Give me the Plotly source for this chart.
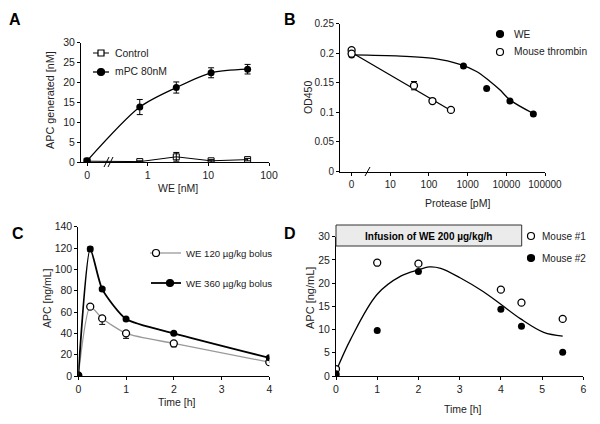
import plotly.graph_objects as go

# ---- panel A: APC generation vs WE concentration ----
a_conc = [0, 0.74, 2.96, 11.1, 44.4]
a_mpc = [0.3, 13.8, 18.7, 22.4, 23.3]
a_mpc_err = [0.3, 1.9, 1.4, 1.25, 1.2]
a_ctrl = [0.2, 0.1, 1.3, 0.3, 0.6]
a_ctrl_err = [0.1, 0.2, 1.1, 0.3, 0.3]

# ---- panel B: OD450 vs protease ----
b_we_pm = [0, 780, 3100, 12400, 50000]
b_we_od = [0.197, 0.178, 0.140, 0.119, 0.097]
b_thr_pm = [0, 0, 41, 123, 370]
b_thr_od = [0.205, 0.199, 0.145, 0.119, 0.104]
b_thr_err = [0.003, 0.003, 0.007, 0.003, 0.003]
b_we_fit_pm = [0, 18, 130, 630, 1700, 3800, 6800, 12400, 50000]
b_we_fit_od = [0.197, 0.195, 0.191, 0.181, 0.169, 0.152, 0.138, 0.121, 0.098]
b_thr_fit_pm = [0, 370]
b_thr_fit_od = [0.201, 0.103]

# ---- panel C: bolus ----
c_time = [0, 0.25, 0.5, 1, 2, 4]
c_120 = [0.5, 65, 54, 40, 30.5, 13]
c_120_err = [0, 0, 5.6, 4.7, 3.1, 0]
c_360 = [0.5, 119, 81.5, 53.5, 40, 17]
c_360_err = [0, 2, 1.5, 1, 1, 1]

# ---- panel D: infusion ----
d_t1 = [0, 1, 2, 4, 4.5, 5.5]
d_m1 = [1.5, 24.4, 24.2, 18.6, 15.8, 12.3]
d_t2 = [0, 0, 1, 2, 4, 4.5, 5.5]
d_m2 = [0.5, 0.2, 9.8, 22.5, 14.4, 10.7, 5.1]
d_fit_t = [0, 0.36, 1.0, 1.57, 2.02, 2.26, 2.54, 3.02, 3.55, 3.99, 4.48, 5.04, 5.5]
d_fit = [1.0, 8.0, 17.6, 21.5, 22.9, 23.5, 23.2, 21.1, 18.3, 15.5, 12.3, 9.4, 8.6]

W, H = 600, 424
FONT = "Arial, Liberation Sans, sans-serif"


def px(x):
    return x / W


def py(y):
    return 1 - y / H


# zero doses sit where the axis break puts them
a_x = [0.1 if c == 0 else c for c in a_conc]
b_we_x = [1 if c == 0 else c for c in b_we_pm]
b_thr_x = [1 if c == 0 else c for c in b_thr_pm]
b_we_fit_x = [1 if c == 0 else c for c in b_we_fit_pm]
b_thr_fit_x = [1 if c == 0 else c for c in b_thr_fit_pm]

fig = go.Figure()

err = dict(type="data", color="black", thickness=1, width=3)
open_dot = dict(symbol="circle", size=7, color="white", line=dict(color="black", width=1.3))
full_dot = dict(symbol="circle", size=7, color="black")

# A
fig.add_trace(go.Scatter(x=a_x, y=a_ctrl, name="Control", mode="lines+markers",
                         line=dict(color="black", width=1),
                         marker=dict(symbol="square-open", size=6, color="black", line=dict(width=1)),
                         error_y=dict(array=a_ctrl_err, **err), xaxis="x", yaxis="y"))
fig.add_trace(go.Scatter(x=a_x, y=a_mpc, name="mPC 80nM", mode="lines+markers",
                         line=dict(color="black", width=1.3, shape="spline", smoothing=0.8),
                         marker=full_dot, error_y=dict(array=a_mpc_err, **err), xaxis="x", yaxis="y"))

# B
fig.add_trace(go.Scatter(x=b_we_fit_x, y=b_we_fit_od, mode="lines",
                         line=dict(color="black", width=1.3, shape="spline"), xaxis="x2", yaxis="y2"))
fig.add_trace(go.Scatter(x=b_thr_fit_x, y=b_thr_fit_od, mode="lines",
                         line=dict(color="black", width=1.3), xaxis="x2", yaxis="y2"))
fig.add_trace(go.Scatter(x=b_we_x, y=b_we_od, name="WE", mode="markers",
                         marker=full_dot, xaxis="x2", yaxis="y2"))
fig.add_trace(go.Scatter(x=b_thr_x, y=b_thr_od, name="Mouse thrombin", mode="markers",
                         marker=open_dot, error_y=dict(array=b_thr_err, **err), xaxis="x2", yaxis="y2"))

# C
fig.add_trace(go.Scatter(x=c_time, y=c_120, name="WE 120 µg/kg bolus", mode="lines+markers",
                         line=dict(color="#999999", width=1.3, shape="spline", smoothing=0.6),
                         marker=open_dot,
                         error_y=dict(array=[0] * len(c_time), arrayminus=c_120_err, symmetric=False, **err),
                         xaxis="x3", yaxis="y3"))
fig.add_trace(go.Scatter(x=c_time, y=c_360, name="WE 360 µg/kg bolus", mode="lines+markers",
                         line=dict(color="black", width=1.8, shape="spline", smoothing=0.6),
                         marker=full_dot, error_y=dict(array=c_360_err, **err), xaxis="x3", yaxis="y3"))

# D
fig.add_trace(go.Scatter(x=d_fit_t, y=d_fit, mode="lines",
                         line=dict(color="black", width=1.3, shape="spline"), xaxis="x4", yaxis="y4"))
fig.add_trace(go.Scatter(x=d_t1, y=d_m1, name="Mouse #1", mode="markers",
                         marker=open_dot, xaxis="x4", yaxis="y4"))
fig.add_trace(go.Scatter(x=d_t2, y=d_m2, name="Mouse #2", mode="markers",
                         marker=full_dot, xaxis="x4", yaxis="y4"))

ax = dict(showline=True, linecolor="black", linewidth=1, showgrid=False, zeroline=False, automargin=False,
          ticks="outside", ticklen=3, tickcolor="black", tickfont=dict(size=10.5, color="#222"))

fig.update_layout(
    width=W, height=H, margin=dict(l=0, r=0, t=0, b=0), showlegend=False,
    paper_bgcolor="white", plot_bgcolor="white",
    font=dict(family=FONT, size=10.5, color="#222"),
    xaxis=dict(ax, type="log", domain=[px(81), px(269)], range=[-1.1, 2.0], anchor="y",
               tickvals=[0.1, 1, 10, 100], ticktext=["0", "1", "10", "100"]),
    yaxis=dict(ax, domain=[py(162), py(42.5)], range=[0, 30], anchor="x", dtick=5),
    xaxis2=dict(ax, type="log", domain=[px(340), px(545)], range=[-0.3, 5.0], anchor="y2",
                tickvals=[1, 10, 100, 1000, 10000, 100000],
                ticktext=["0", "10", "100", "1000", "10000", "100000"], tickfont=dict(size=10)),
    yaxis2=dict(ax, domain=[py(171.5), py(23.5)], range=[0, 0.25], anchor="x2", dtick=0.05,
                tickfont=dict(size=10)),
    xaxis3=dict(ax, domain=[px(78.3), px(269.3)], range=[0, 4], anchor="y3", dtick=1),
    yaxis3=dict(ax, domain=[py(376), py(226.7)], range=[0, 140], anchor="x3", dtick=20),
    xaxis4=dict(ax, domain=[px(336), px(583.3)], range=[0, 6], anchor="y4", dtick=1),
    yaxis4=dict(ax, domain=[py(376), py(236.7)], range=[0, 30], anchor="x4", dtick=5),
)


def text(s, x, y, size=10.5, bold=False, ang=0, anchor="center"):
    fig.add_annotation(x=px(x), y=py(y), xref="paper", yref="paper", showarrow=False,
                       text=f"<b>{s}</b>" if bold else s, textangle=ang,
                       font=dict(size=size, color="black" if bold else "#222"),
                       xanchor=anchor, yanchor="middle")


def seg(x0, y0, x1, y1, color="black", width=1):
    fig.add_shape(type="line", xref="paper", yref="paper", x0=px(x0), y0=py(y0),
                  x1=px(x1), y1=py(y1), line=dict(color=color, width=width))


def dot(x, y, filled, r=3.5, square=False):
    fig.add_shape(type="rect" if square else "circle", xref="paper", yref="paper",
                  x0=px(x - r), x1=px(x + r), y0=py(y + r), y1=py(y - r),
                  fillcolor="black" if filled else "white", line=dict(color="black", width=1.2))


# panel letters and axis titles
for s, x, y in [("A", 15, 20), ("B", 290, 20), ("C", 18, 233), ("D", 290, 233)]:
    text(s, x, y, size=16, bold=True)
text("APC generated [nM]", 50, 100, size=10.8, ang=-90)
text("WE [nM]", 178, 188)
text("OD450", 308, 98, ang=-90)
text("Protease [pM]", 457, 203)
text("APC [ng/mL]", 47, 298, ang=-90)
text("Time [h]", 177, 402)
text("APC [ng/mL]", 310, 298, size=11, ang=-90)
text("Time [h]", 463, 409)

# hand-placed legends
seg(93, 53, 109, 53)
dot(101, 53, False, r=3, square=True)
text("Control", 113, 53, size=10.4, anchor="left")
seg(93, 72, 109, 72, width=1.3)
dot(101, 72, True)
text("mPC 80nM", 113, 72, size=10.4, anchor="left")

dot(500, 34, True)
text("WE", 512, 34, size=10.2, anchor="left")
dot(500, 52, False)
text("Mouse thrombin", 512, 52, size=10.2, anchor="left")

seg(150, 253, 181, 253, color="#999999", width=1.3)
dot(156, 253, False)
text("WE 120 µg/kg bolus", 184, 253, size=9.6, anchor="left")
seg(151, 283, 181, 283, width=1.8)
dot(170, 283, True)
text("WE 360 µg/kg bolus", 184, 283, size=9.6, anchor="left")

dot(531, 236, False)
text("Mouse #1", 540, 236, size=10, anchor="left")
dot(531, 258, True)
text("Mouse #2", 540, 258, size=10, anchor="left")

# infusion box in D
fig.add_shape(type="rect", xref="paper", yref="paper",
              x0=px(336), x1=px(521.7), y0=py(246), y1=py(225),
              fillcolor="#ebebeb", line=dict(color="#333", width=1))
text("Infusion of WE 200 µg/kg/h", 428, 236, size=10, bold=True)

# axis break marks
seg(104, 167, 109, 157)
seg(108, 167, 113, 157)
seg(365, 176, 370, 167)

page_fix = ("document.documentElement.style.overflow='hidden';"
            "document.body.style.overflow='hidden';"
            "document.body.style.margin='0';")
fig.write_html("out.html", config={"displayModeBar": False}, post_script=page_fix)
